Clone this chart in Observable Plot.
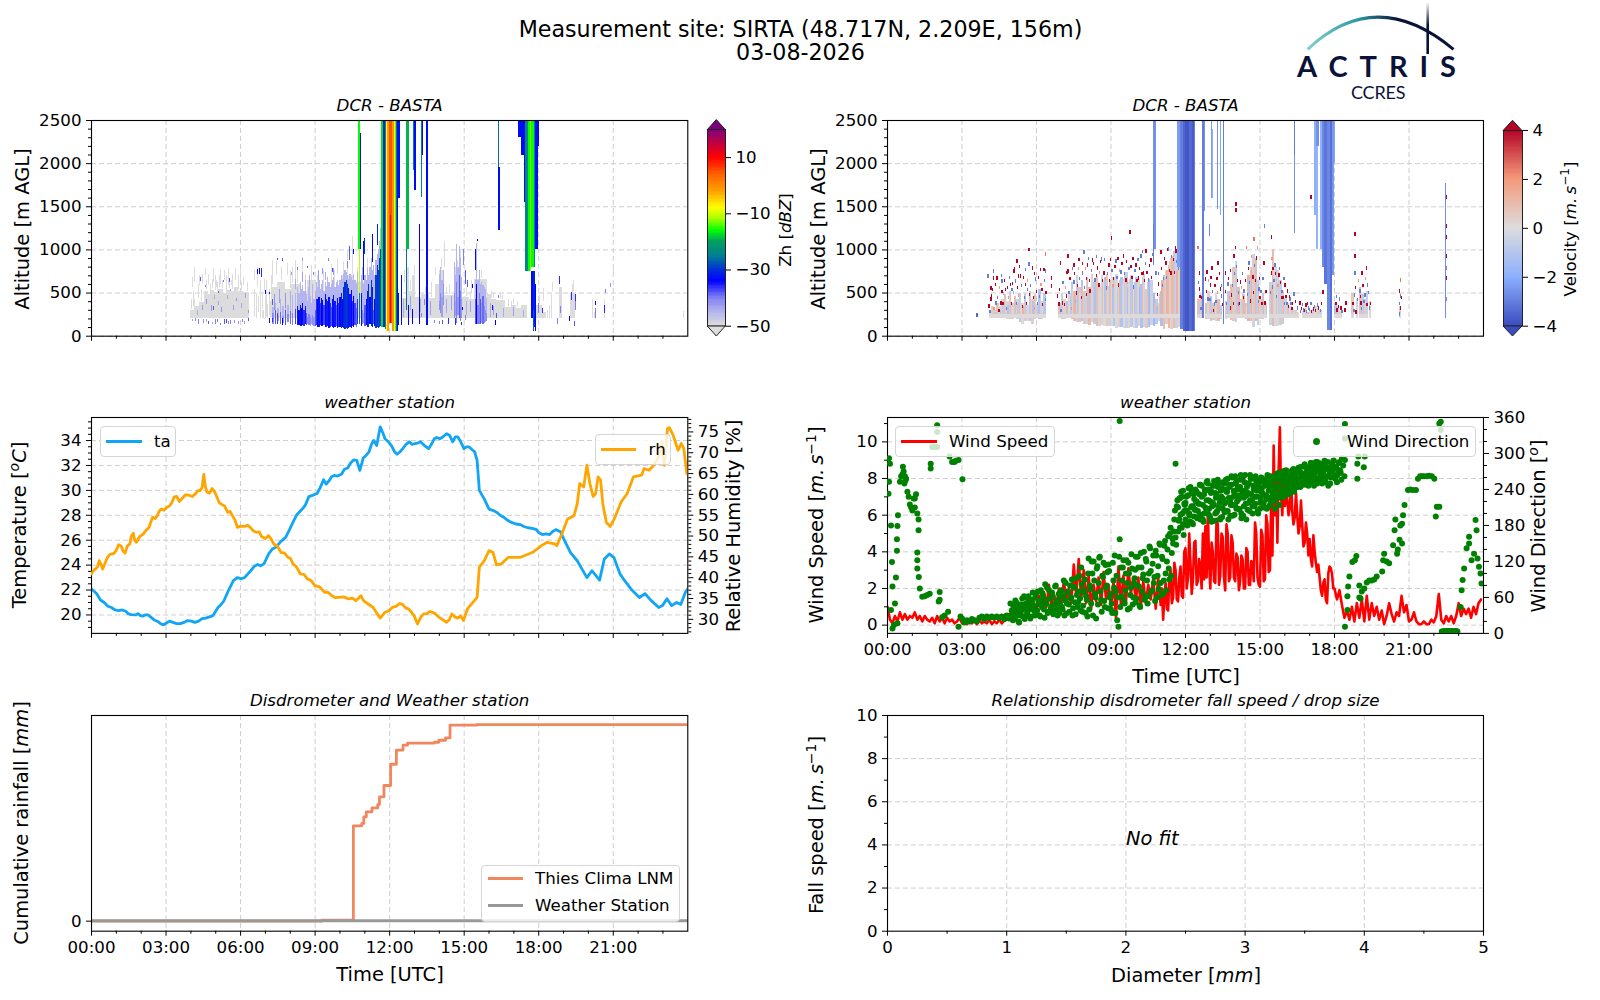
<!DOCTYPE html>
<html><head><meta charset="utf-8">
<script src="https://cdn.jsdelivr.net/npm/d3@7"></script>
<script src="https://cdn.jsdelivr.net/npm/@observablehq/plot@0.6"></script>
<style>
html,body{margin:0;background:#fff}
#fig{position:relative;width:1600px;height:1000px;overflow:hidden;font-family:"DejaVu Sans",sans-serif;color:#000;background:#fff}
#fig svg{position:absolute}
.t{position:absolute;white-space:nowrap;transform:translate(-50%,-50%);line-height:1}
.v{transform:translate(-50%,-50%) rotate(-90deg)}
sup{font-size:.72em;line-height:0}
.leg{position:absolute;background:rgba(255,255,255,.8);border:1px solid #d5d5d5;border-radius:4px;box-sizing:border-box}
.legline{position:absolute;height:3px}
.legdot{position:absolute;width:7px;height:7px;border-radius:50%;background:#008000}
.legt{position:absolute;font-size:16.67px;line-height:1;white-space:nowrap;transform:translateY(-50%)}
</style></head><body><div id="fig"></div>
<script>
// ---------- axis values ----------
const hourTicks=[0,3,6,9,12,15,18,21];
const hourMinor=[1,2,4,5,7,8,10,11,13,14,16,17,19,20,22,23];
const altTicks=[0,500,1000,1500,2000,2500];
const altMinor=[100,200,300,400,600,700,800,900,1100,1200,1300,1400,1600,1700,1800,1900,2100,2200,2300,2400];
const tempTicks=[20,22,24,26,28,30,32,34];
const tempMinor=[19,19.5,20.5,21,21.5,22.5,23,23.5,24.5,25,25.5,26.5,27,27.5,28.5,29,29.5,30.5,31,31.5,32.5,33,33.5,34.5,35,35.5];
const rhTicks=[30,35,40,45,50,55,60,65,70,75];
const rhMinor=[27,28,29,31,32,33,34,36,37,38,39,41,42,43,44,46,47,48,49,51,52,53,54,56,57,58,59,61,62,63,64,66,67,68,69,71,72,73,74,76,77,78];
const speedTicks=[0,2,4,6,8,10];
const speedMinor=[1,3,5,7,9,11];
const dirTicks=[0,60,120,180,240,300,360];
const dirMinor=[20,40,80,100,140,160,200,220,260,280,320,340];
const fallTicks=[0,2,4,6,8,10];
const fallMinor=[1,3,5,7,9];
const diamTicks=[0,1,2,3,4,5];
const diamMinor=[0.5,1.5,2.5,3.5,4.5];
// ---------- colour maps ----------
const zhStops=[-50,-45,-40,-34,-30,-25,-20,-16,-12,-8,-2,4,10,15,20];
const zhColors=["#dcdcdc","#b4b4ee","#8080f5","#0000ff","#0030d8","#008090","#00a060","#00ff00","#a0ff00","#ffff00","#ffa000","#ff6000","#ff0000","#c00040","#800080"];
const velStops=[-4,-2,0,2,4];
const velColors=["#3b4cc0","#8db0fe","#dddcdc","#f49a7b","#b40426"];
// ---------- weather station ----------
const taHours=[0,.21,.51,.8,1.09,1.38,1.58,1.77,1.97,2.16,2.4,2.65,2.9,3.14,3.43,3.72,4.02,4.31,4.6,4.89,5.09,5.32,5.52,5.71,5.87,6.16,6.41,6.69,6.94,7.13,7.43,7.82,8.11,8.36,8.6,8.89,9.08,9.34,9.57,9.77,10.06,10.31,10.55,10.68,10.8,10.94,11.17,11.36,11.48,11.62,11.81,12.07,12.3,12.53,12.79,13.02,13.24,13.57,13.8,14.02,14.29,14.54,14.74,14.99,15.19,15.42,15.52,15.61,15.81,16,16.3,16.59,16.88,17.27,17.56,17.91,18.15,18.44,18.69,18.89,19.03,19.28,19.55,19.71,19.94,20.14,20.45,20.64,20.84,21.03,21.27,21.46,21.75,22.05,22.28,22.53,22.83,22.98,23.16,23.35,23.55,23.72,23.9,24];
const taValues=[22.09,21.7,21,20.6,20.35,20.3,20.03,20,19.95,20,19.8,19.5,19.2,19.5,19.3,19.4,19.5,19.5,19.75,19.95,20.6,21.1,22,22.75,23,23,23.55,24.05,24.1,24.9,25.45,26.25,27.45,28.25,28.8,29.6,29.75,30.85,30.8,31.2,31.3,31.8,32.45,32.4,31.6,32.6,33.1,34,33.6,35.1,34.15,33.6,32.9,33.35,33.9,33.75,33.9,33.35,34.15,34.15,34.55,33.9,34.3,33.35,33.5,33.1,32.4,30,29.3,28.5,28.25,27.85,27.45,27.25,27,26.85,26.45,26.45,26.85,26.65,26,25,24.35,23.8,23,23.55,22.8,24.5,24.9,24.6,23.3,22.75,22,21.4,21.7,21.15,20.6,20.75,21.3,20.75,21,20.85,21.8,22.1];
const taFine=[[.36,21.2],[.66,20.7],[.95,20.4],[1.24,20.4],[1.48,20.1],[1.87,20.1],[2.06,19.9],[2.28,20],[2.52,19.6],[2.78,19.3],[3.02,19.35],[3.28,19.4],[3.58,19.3],[3.87,19.55],[4.16,19.4],[4.45,19.7],[5.2,20.8],[6.04,22.9],[6.55,23.9],[6.8,23.95],[7.28,25.3],[7.62,25.9],[7.96,26.8],[8.25,28],[8.48,28.5],[8.75,29.5],[9.2,30.2],[9.45,30.5],[9.66,31.1],[9.9,31.15],[10.18,31.7],[10.43,32.2],[11.05,32.8],[11.27,33.7],[11.75,34.5],[11.95,33.9],[12.2,33.1],[12.42,33.1],[12.66,33.7],[12.9,33.7],[13.13,33.8],[13.4,33.6],[13.68,33.7],[13.9,34.25],[14.15,34.3],[14.42,34.4],[14.64,34.3],[14.86,33.9],[15.1,33.5],[15.3,33.3],[16.15,28.4],[16.45,28],[16.74,27.6],[17.08,27.3],[17.4,27.1],[17.74,26.95],[18,26.6],[18.3,26.5],[18.56,26.7]];
const rhHours=[0,.16,.31,.45,.64,.84,.99,1.19,1.35,1.54,1.68,1.81,2.07,2.32,2.46,2.65,2.81,3.04,3.24,3.43,3.63,3.92,4.21,4.37,4.52,4.64,4.85,5.05,5.24,5.48,5.67,5.87,6.16,6.39,6.65,6.84,7.13,7.33,7.62,7.91,8.11,8.4,8.69,8.99,9.38,9.67,9.96,10.35,10.64,10.84,11.03,11.33,11.62,11.81,12.11,12.4,12.65,12.88,13.12,13.37,13.63,13.96,14.29,14.5,14.74,14.97,15.13,15.52,15.61,15.81,16,16.16,16.3,16.49,16.78,17.27,17.76,18.11,18.34,18.64,18.73,18.93,19.16,19.42,19.55,19.65,19.81,19.94,20.06,20.19,20.29,20.39,20.49,20.58,20.72,20.88,21.07,21.31,21.56,21.81,22.14,22.24,22.44,22.63,22.83,22.96,23.06,23.18,23.26,23.41,23.61,23.74,23.84,23.96];
const rhValues=[40.9,42.1,44.1,42.1,44.9,45.7,46.5,47.6,45.9,48.1,50.7,48.5,50.4,52.1,54.5,54.9,56.5,56.9,58.1,59.5,58.9,59.8,60.3,60.9,64.8,60.6,61.4,59.3,57.6,55.7,54.9,52.1,52.3,52.1,50.9,49.9,50.1,48.1,46.1,44.9,43.3,40.9,39.7,38.1,36.5,35.7,35.3,34.9,34.5,35.7,34.1,32.9,30.3,31.7,32.9,33.8,32.7,31.7,28.9,31.3,31.9,30.6,29.3,31.3,30.3,29.7,32.5,35.3,42.5,44.1,46.5,46.1,43.1,43.3,44.9,44.9,46.1,47.7,48.5,48.1,47.7,50.5,54.1,54.9,57.7,62.6,61.8,67,62.6,59.5,60.2,64.2,63.4,57.7,53.3,52.3,54.5,58.1,60.2,64.2,64.6,66.2,65.8,67,69,72.6,67,75.8,76,74.2,70.6,72.2,71,65];
const rhFine=[[.08,41.8],[.24,42.6],[.38,43.2],[.54,43.4],[.74,45.6],[.91,45.9],[1.09,47.9],[1.27,46.4],[1.44,47.6],[1.6,49.9],[1.74,49],[1.94,49.9],[2.2,51.4],[2.39,53.4],[2.56,54.2],[2.73,56],[2.92,56.2],[3.14,57.2],[3.33,59.4],[3.53,58.3],[3.78,59.9],[4.06,59.5],[4.28,60.9],[4.45,61.6],[4.58,62],[4.75,60.3],[4.95,60.7],[5.14,58],[5.36,57.2],[5.58,55.9],[5.77,53.9],[6.02,52.4],[6.28,52.6],[6.52,51.2],[6.75,51],[7,49.4],[7.23,49.3],[7.48,47.6],[7.77,45.9],[8.01,44.6],[8.25,42.6],[8.55,40.8],[8.84,39.3],[9.18,37.8],[9.52,36.5],[9.81,35.2],[10.15,35.4],[10.5,35.1],[10.74,35],[10.94,34.6],[11.18,33.5],[11.48,31.5],[11.72,31],[11.96,32],[12.25,33.1],[12.52,33.6],[12.76,32.5],[13,30.7],[13.25,30.5],[13.5,31.4],[13.8,31.5],[14.12,30],[14.4,29.9],[14.62,30.6],[14.86,30.8]];
// wind speed: every 0.1 h until 11 h, every 0.05 h until 18 h, every 0.1 h afterwards
const windHours=[...d3.range(0,11,0.1),...d3.range(11,18,0.05),...d3.range(18,24,0.1)];
const windSpeed=[1,.3,.1,.5,.2,.7,.3,.6,.3,.5,.4,.7,.3,.5,.2,.5,.3,.2,.4,.1,.5,.2,.4,.1,.4,.2,.3,.1,.2,.4,.1,.3,.05,.3,.1,.25,.05,.3,.1,.2,.1,.3,.05,.2,.1,.3,.1,.25,.3,.6,.4,.8,.5,1.2,.6,1,.7,1.4,.8,1.2,.9,1.6,.9,1.8,1,2.2,1.1,1.7,1,2,1.2,2.4,1.4,2,1.2,3.3,1.6,3.6,1.4,3,1.2,2.7,.9,2.2,1.3,2.6,1.1,2.9,1.4,2.2,1,2.4,.4,3.2,1.1,2.7,1.2,3.1,1.7,2.6,1.3,2.6,1,2.4,1.2,2.2,1.4,2.5,.9,2.6,
1.1,2,.3,1.6,2.3,.9,.8,2.6,3,1.2,1.5,3.4,3,1.4,1.3,2.6,3.2,1.6,1.5,4,
4.2,2,2.6,5,3.4,1.7,2.5,4.5,4.6,2.2,2.4,3.6,3.2,2,5,2.5,5.4,2.6,6.3,3.4,
2,4.5,4,2.4,2.3,5.8,5.5,2.2,2.7,5,4.8,2.6,1.9,5.5,5,2.4,2.6,4.9,4.5,2.6,
2.4,3.9,3.7,1.9,2.4,3.8,3.6,2,2,4.2,4,2.2,2.2,3.5,3.3,2.4,5.6,5,2.6,2.2,
2.1,5.2,4.9,2.4,2.5,6,5.5,2.9,3,6.8,3.8,9.8,6,8,4.5,8.4,10.8,7,6,8.5,
6.5,7.8,6.8,6,6.4,8,6.2,5.5,5.9,7.2,6,5,5.4,6.8,5.5,4.3,4.5,5.6,5,3.8,
4.7,3.6,3.2,4.9,4,3.4,2.9,3.3,2.6,1.9,1.6,2.3,2.5,1.4,1.2,2.8,3.2,3.1,2.8,2,
2,1.4,1.9,1.1,.4,.8,.3,1,.2,1.2,.4,1.4,.2,1.6,.3,1.2,.5,1,.3,.8,.05,.5,1.2,.6,.2,.7,.5,1.6,.7,1.1,.2,.3,.7,.2,.05,.05,.2,.05,.05,.3,.15,.5,1.7,.3,.1,.5,.2,.5,.1,.5,1.2,.5,.9,.6,.9,.4,1,.6,1.2,1.4];
const windDir=[[.06,292],[.1,283],[.06,253],[.04,233],[.14,180],[.18,119],[.2,78],[.14,39],[.3,50],[.34,93],[.38,138],[.38,157],[.4,179],[.42,197],[.26,14],[.2,8],[.4,17],[.5,253],[.55,262],[.6,265],[.62,278],[.65,270],[.7,262],[.72,255],[.75,258],[.68,250],[.8,236],[.85,228],[.9,215],[.95,210],[1,205],[1.05,225],[1.1,225],[1.15,232],[1.1,210],[1.2,200],[1.25,190],[1.25,172],[1.2,135],[1.2,122],[1.2,108],[1.26,94],[1.3,75],[1.4,61],[1.6,64],[1.7,66],[1.5,62],[2.1,69],[2.1,56],[2.06,53],[1.74,283],[1.74,275],[1.8,311],[2,311],[1.9,311],[2,336],[2,347],[2.5,295],[2.6,286],[2.86,289],[2.7,286],[2.75,288],[3.02,257],[2.44,36],[2.3,30],[2.2,27],[2.86,11],[2.94,28],
[3,25],[3.1,18],[3.2,22],[3.3,20],[3.4,24],[3.5,22],[3.6,20],[3.7,26],[3.8,28],[3.9,24],[4,28],[4.1,26],[4.2,28],[4.3,26],[4.4,28],[4.5,26],[4.6,28],[4.7,24],[4.8,30],
[4.9,25],[4.95,50],[5,38],[5.05,22],[5.1,45],[5.15,55],[5.2,30],[5.25,40],[5.3,18],[5.35,35],[5.4,48],[5.45,28],[5.5,62],[5.55,40],[5.6,30],[5.65,58],[5.7,45],[5.75,25],[5.8,52],[5.85,68],[5.9,38],[5.95,60],[6,32],[6.05,70],[6.1,48],[6.15,28],[6.2,55],[6.25,65],[6.3,40],[6.35,82],[6.4,50],[6.45,34],[6.5,72],[6.55,58],[6.6,45],[6.65,62],[6.7,38],[6.75,78],[6.8,52],[6.85,30],[6.9,66],[6.95,48],[7,72],[7.05,40],[7.1,88],[7.15,55],[7.2,33],[7.25,68],[7.3,48],[7.35,80],[7.4,60],[7.45,30],[7.5,78],[7.55,52],[7.6,92],[7.65,44],[7.7,70],[7.75,58],[7.8,110],[7.85,36],[7.9,72],[7.95,90],[8,62],[8.05,28],[8.1,125],[8.15,80],[8.2,50],[8.25,100],[8.3,120],[8.35,66],[8.4,25],[8.45,112],[8.5,84],[8.55,128],[8.6,56],[8.65,96],[8.7,118],[8.75,44],[8.8,76],[8.85,102],[8.9,115],[8.95,60],[9,40],[9.05,34],[9.1,88],[9.15,130],[9.2,70],[9.25,22],[9.3,11],[9.35,354],[9.35,157],[9.4,110],[9.45,62],[9.5,122],[9.55,50],[9.6,100],[9.65,84],[9.7,118],[9.75,42],[9.8,76],[9.85,108],[9.9,60],[9.95,92],[10,128],[10,52],[10.05,80],[10.1,110],[10.15,46],[10.2,134],[10.25,70],[10.3,98],[10.35,56],[10.4,124],[10.45,88],[10.5,62],[10.55,145],[10.6,104],[10.65,72],[10.7,130],[10.75,94],[10.8,138],[10.85,60],[10.9,112],[10.95,150],[11,84],[11.05,128],[11.1,66],[11.15,146],[11.2,100],[11.25,120],[11.3,162],[11.35,90],[11.4,176],[11.45,134],[11.5,150],[11.55,190],[11.6,283],[11.6,160],[11.65,212],[11.7,170],[11.75,225],[11.8,198],[11.85,228],[11.9,182],[11.95,216],[12,190],[12.05,205],[12.1,230],[12.15,200],[12.2,186],[12.25,236],[12.3,212],[12.35,195],[12.4,240],[12.45,220],[12.5,204],[12.55,232],[12.6,190],[12.65,246],[12.7,214],[12.75,200],[12.8,238],[12.85,222],[12.9,250],[12.95,208],[13,192],[13.05,236],[13.1,218],[13.15,254],[13.2,200],[13.25,232],[13.3,244],[13.35,210],[13.4,190],[13.45,228],[13.5,252],[13.55,216],[13.6,240],[13.65,204],[13.7,258],[13.75,226],[13.8,196],[13.85,248],[13.9,214],[13.95,236],[14,262],[14.05,208],[14.1,244],[14.15,224],[14.2,256],[14.25,192],[14.3,238],[14.35,212],[14.4,264],[14.45,230],[14.5,206],[14.55,250],[14.6,222],[14.65,258],[14.7,200],[14.75,240],[14.8,216],[14.85,254],[14.9,228],[14.95,246],[15,208],[15.05,236],[15.1,258],[15.15,218],[15.2,246],[15.25,230],[15.3,210],[15.35,252],[15.4,226],[15.45,262],[15.5,238],[15.55,220],[15.6,256],[15.65,242],[15.7,232],[15.75,262],[15.8,246],[15.85,226],[15.9,268],[15.95,240],[16,254],[16.05,232],[16.1,270],[16.15,248],[16.2,262],[16.25,240],[16.3,272],[16.35,252],[16.4,258],[16.45,266],[16.5,244],[16.55,274],[16.6,256],[16.65,278],[16.7,262],[16.75,248],[16.8,282],[16.85,268],[16.9,254],[16.95,276],[17,262],[17.05,284],[17.1,266],[17.15,252],[17.2,280],[17.25,270],[17.3,286],[17.35,258],[17.4,274],[17.45,282],[17.5,250],[17.55,268],[17.6,286],[17.65,262],[17.7,276],[17.75,246],[17.8,270],[17.85,260],[17.9,282],[17.95,288],[18,264],[18.05,278],[18.1,252],[18.15,272],[18.2,286],[18.25,268],[18.3,292],[18.35,280],[18.4,262],[18.42,11],[18.42,349],[18.42,325],[18.42,289],[18.52,39],[18.52,62],[18.55,78],[18.6,95],[18.72,119],[18.82,122],[18.88,129],[19,80],[19.05,58],[18.92,283],[18.92,258],[18.96,295],[19.22,295],[19.18,277],[19,60],[19.1,70],[19.2,75],[19.3,85],[19.4,88],[19.5,88],[19.6,90],[19.7,95],[19.92,103],[19.96,122],[20,133],[20.1,120],[20.2,117],[20.36,147],[20.42,172],[20.45,190],[20.52,133],[20.55,140],[20.62,156],[20.65,180],[20.72,150],[20.72,183],[20.76,197],[20.82,214],[20.96,239],[21.05,240],[21.15,239],[21.28,239],[21.36,258],[21.45,262],[21.52,262],[21.6,262],[21.72,262],[21.8,263],[21.92,262],[22.02,258],[22.12,211],[22.08,195],[22.22,211],[22.28,353],[22.22,350],[22.28,339],[22.32,3],[22.4,4],[22.45,3],[22.5,4],[22.55,3],[22.6,4],[22.65,3],[22.7,4],[22.75,3],[22.8,4],[22.85,3],[22.9,4],[22.95,3],[23.08,44],[23.12,72],[23.16,89],[23.22,108],[23.32,142],[23.42,161],[23.42,150],[23.52,122],[23.62,133],[23.68,189],[23.72,172],[23.76,125],[23.82,111],[23.88,100],[23.92,83]];
// extra direction samples, one every 0.05 h from 5.025 h
const windDirDenseHours=d3.range(5.025,18.3,0.05);
const windDirDense=[32,44,26,52,36,20,48,30,58,42,24,50,34,62,40,28,56,46,30,66,
38,54,30,72,44,60,26,50,76,36,58,42,68,32,48,80,40,56,34,70,
44,62,30,84,50,70,36,58,90,42,76,32,64,52,96,38,82,46,68,34,
56,100,40,74,120,30,88,60,108,48,126,70,36,94,54,114,80,42,104,66,
50,118,76,34,96,60,128,44,88,110,54,72,122,40,100,64,132,48,84,106,
58,128,78,44,110,92,136,62,120,50,100,142,70,116,84,54,130,96,74,148,
64,124,88,154,72,140,108,166,96,158,
170,205,148,222,188,176,236,200,164,214,228,180,242,196,210,184,232,206,220,192,
216,248,198,230,186,240,208,254,222,196,234,212,246,188,226,204,250,218,238,194,
224,202,256,236,190,244,214,260,228,198,250,220,240,206,264,232,196,252,216,244,
234,204,258,222,246,212,262,238,200,252,226,242,216,256,230,208,260,244,220,250,
236,258,224,266,246,214,260,238,270,228,252,242,264,232,256,248,272,236,262,250,
258,272,244,266,252,278,260,248,274,264,254,282,268,246,276,258,270,284,262,252,
268,280,256,274,286,262,250,278,270,288,258,276,264,284,272,256];
const windDirBandHours=d3.range(11.7,17.7,0.05);
const windDirBand=[210,190,226,176,238,204,218,186,230,198,244,212,182,224,206,236,194,216,248,228,
190,232,210,252,200,240,220,186,246,214,234,202,256,226,192,242,208,250,218,236,
204,248,222,262,196,238,214,254,230,208,244,200,258,226,236,190,250,218,264,232,
212,246,228,256,204,240,218,260,234,210,250,224,264,238,214,254,230,244,208,258,
226,268,244,252,234,262,240,272,248,256,236,266,250,274,242,260,254,276,246,268,
264,250,280,258,272,246,268,284,254,276,262,286,250,270,280,258,274,264,288,252];
// ---------- rainfall ----------
const rainHours=[0,9.27,10.54,10.88,10.96,11.06,11.29,11.52,11.59,11.77,12.04,12.27,12.54,12.72,13.8,13.98,14.25,14.43,15.5,24];
const rainThies=[0,.005,.485,.497,.53,.556,.576,.593,.632,.69,.798,.87,.895,.905,.91,.92,.932,.997,1,1];
const stationHours=[0,24];
const stationRain=[0.002,0.002];
// ---------- cloud radar, Zh: rain shafts [start h, end h, base m, top m, dBZ] ----------
const zhShafts=[[10.74,10.82,1000,2500,-16],[10.82,10.87,1000,2350,-33],[10.77,10.82,500,1000,-11],[10.8,10.83,130,500,-25],
[11.68,11.76,100,2500,-17],[11.76,11.82,100,2500,-32],[11.82,11.87,80,2500,-22],[11.87,11.93,60,2500,-8],[11.93,11.99,60,2500,-2],[11.99,12.1,150,2500,5],[12.03,12.07,150,1400,10],[12.1,12.19,50,2500,-1],[12.19,12.24,50,2500,-8],[12.24,12.29,50,2500,-14],[12.29,12.33,60,2500,-26],[12.33,12.37,60,2500,-33],[12.37,12.42,1600,2500,-33],[12.37,12.4,120,500,-33],
[12.68,12.78,1000,2500,-19],[12.68,12.72,300,1000,-26],[12.78,12.81,1800,2500,-33],[12.77,12.8,120,350,-34],[12.96,13.04,1920,2500,-24],[13.0,13.1,1690,2500,-33],[13.3,13.33,1610,2500,-24],[13.33,13.36,2100,2500,-33],[13.5,13.56,120,2500,-33],[13.08,13.1,1600,1900,-33],
[16.39,16.43,1950,2500,-26],[16.4,16.45,1230,1950,-33],
[17.19,17.3,2300,2500,-33],[17.3,17.42,2100,2500,-33],[17.42,17.48,1550,2500,-33],[17.48,17.57,750,2500,-24],[17.57,17.66,750,2500,-16],[17.66,17.72,750,2500,-12],[17.72,17.82,800,2500,-16],[17.82,17.89,800,2500,-25],[17.89,17.98,1000,2500,-33],[17.98,18.02,2200,2500,-33],[17.7,17.78,200,750,-33],[17.78,17.86,100,750,-31],[17.86,17.9,60,600,-34],[17.8,17.83,50,300,-27],[18.3,18.33,2350,2420,-34]];
// Zh: grey low-level echo [start h, end h, top m], base 200 m
const zhGray=[[4,4.15,300],[4.15,4.2,420],[4.2,4.35,340],[4.35,4.55,390],[4.55,4.7,520],[4.7,4.8,480],[4.8,4.95,530],[4.95,5.1,510],[5.1,5.3,540],[5.3,5.45,500],[5.45,5.6,530],[5.6,5.75,520],[5.75,5.9,560],[5.9,6.1,520],[6.1,6.37,510],[6.5,6.54,420],[6.6,6.62,330],[6.75,6.78,500],[6.87,6.95,300],[7,7.03,470],[7.1,7.13,370],[7.2,7.24,400],[7.3,7.5,560],[7.5,7.8,620],[7.8,8.05,540],[8.05,8.4,600],[8.4,8.7,520],[8.7,9.05,640],[9.05,9.6,500],[9.6,10.1,560],[10.1,10.6,700],[10.6,11.1,620],[11.1,11.65,700],[12.53,12.7,440],[12.7,12.78,800],[12.78,12.9,520],[12.9,13.05,700],[13.05,13.3,450],[13.3,13.6,480],[13.6,13.85,440],[13.85,14,600],[14,14.2,760],[14.2,14.6,470],[14.6,14.95,640],[14.95,15.2,450],[15.2,15.4,420],[15.4,15.95,660],[15.95,16.1,480],[16.1,16.3,430],[16.3,16.68,410],[16.68,16.9,330],[16.9,17.1,360],[17.1,17.3,320],[17.3,17.55,350],[17.9,18.15,360],[18.15,18.3,280],[18.42,18.46,360],[18.5,18.55,480],[18.82,18.96,560],[19.29,19.49,500],[20.16,20.2,430],[20.25,20.28,280],[20.66,20.69,420],[22.12,22.14,290],[23.84,23.86,290]];
// Zh: grey wisps above the band [h, base m, top m]
const zhWisps=[[4.05,560,680],[4.15,620,800],[4.35,590,700],[4.53,900,950],[4.6,700,780],[4.72,590,720],[4.9,620,790],[5.02,560,640],[5.2,600,770],[5.35,640,760],[5.5,590,780],[5.62,590,650],[5.8,640,780],[6,650,800],[6.12,590,680],[6.3,560,660],[6.55,640,760],[6.7,560,800],[6.95,520,660],[7.3,600,880],[7.45,700,860],[7.65,650,800],[7.9,700,840],[8.2,640,880],[8.5,700,860],[9.2,700,780],[9.9,720,900],[10.3,720,1000],[10.5,720,1150],[12.6,620,760],[12.9,800,1000],[13.2,500,620],[13.85,700,800],[14.2,800,1100],[14.4,480,600],[14.85,800,1000],[15.3,500,640],[16.2,440,500],[16.55,420,470],[18.2,400,550],[18.55,520,620],[19.42,520,640],[21.0,700,770],[22.12,730,780],[16.9,360,400],[17.25,350,390],
[4.02,310,420],[4.1,340,520],[4.25,350,480],[4.3,440,600],[4.42,400,540],[4.48,610,720],[4.64,540,640],[4.78,500,600],[4.86,550,660],[4.98,530,700],[5.08,520,620],[5.16,560,700],[5.28,550,640],[5.42,520,700],[5.54,550,640],[5.68,540,720],[5.78,570,660],[5.92,540,700],[6.05,530,620],[6.18,520,720],[6.28,520,620],[6.42,260,520],[6.46,210,380],[6.58,230,540],[6.66,200,500],[6.72,280,460],[6.82,210,640],[6.9,310,520],[7.05,220,640],[7.15,240,540],[7.25,220,700],[7.35,570,740],[7.55,630,760],[7.75,630,720],[8,550,760],[8.1,610,800],[8.3,610,760],[8.6,530,720],[8.85,650,820],[9.1,520,700],[9.35,510,760],[9.65,570,830],[9.8,570,760],[10.15,710,860],[10.7,630,800],[10.85,640,860],[11.1,700,900],[12.85,530,640],[13,710,820],[13.45,490,560],[13.7,450,620],[13.95,610,760],[14.08,770,900],[14.3,480,560],[14.65,650,800],[14.75,650,880],[15.1,460,560],[15.25,430,520],[15.5,670,820],[15.7,670,760],[16,490,560],[16.1,440,520],[16.45,420,510],[16.78,340,420],[17,370,440],[17.15,330,400],[17.45,360,420],[18.05,370,470],[18.35,210,300],[18.9,570,640],[19.35,510,600]];
// Zh: blue columns [h, base m, core top m, core dBZ, haze top m]
const zhColumns=[[7.3,130,260,-41,330],[7.4,140,300,-38,380],[7.5,170,240,-43,320],[7.6,130,280,-39,420],[7.7,150,230,-42,340],[7.8,120,300,-38,450],[7.9,160,250,-41,360],[8,130,290,-39,400],[8.1,120,260,-40,470],[8.2,140,310,-37,500],[8.3,120,340,-35,560],[8.35,120,300,-33,500],[8.4,110,360,-32,620],[8.45,110,320,-34,540],[8.5,120,380,-33,590],[8.55,110,300,-36,520],[8.6,130,340,-35,640],[8.65,120,260,-38,480],[8.7,130,220,-41,400],[8.75,120,250,-40,560],[8.8,110,230,-42,460],[8.85,130,200,-43,380],[8.9,120,240,-41,600],[8.95,110,220,-42,420],[9,110,300,-38,520],[9.05,120,430,-36,620],[9.1,100,420,-33,560],[9.15,100,450,-32,650],[9.2,120,380,-36,540],[9.25,110,440,-34,600],[9.3,110,410,-33,640],[9.35,120,350,-37,520],[9.4,100,480,-33,620],[9.45,100,420,-31,580],[9.5,110,400,-35,680],[9.55,90,450,-33,620],[9.6,100,380,-36,560],[9.65,110,330,-38,600],[9.7,100,420,-33,640],[9.75,90,470,-32,680],[9.8,100,400,-35,560],[9.85,110,350,-38,620],[9.9,90,440,-33,650],[9.95,100,380,-36,590],[10,100,450,-33,640],[10.05,90,500,-31,700],[10.1,100,420,-34,660],[10.15,90,560,-31,720],[10.2,80,620,-30,760],[10.25,90,640,-29,740],[10.3,80,600,-30,700],[10.35,90,550,-32,660],[10.4,100,480,-35,720],[10.45,90,530,-33,680],[10.5,110,400,-36,640],[10.55,100,460,-34,720],[10.6,120,380,-37,650],[10.65,100,320,-39,600],[10.7,130,420,-36,740],[10.85,110,500,-32,700],[10.9,130,300,-40,800],[10.95,150,260,-42,600],[11,110,350,-38,700],[11.05,120,420,-33,640],[11.1,100,520,-31,780],[11.15,100,600,-30,700],[11.2,130,450,-33,800],[11.25,110,640,-30,900],[11.3,100,560,-31,760],[11.35,130,300,-38,820],[11.4,110,420,-34,700],[11.45,90,700,-29,880],[11.5,100,820,-30,950],[11.55,90,760,-29,1000],[11.6,100,900,-30,1100],[11.65,110,1000,-28,1250],
[14,300,400,-42,720],[14.05,260,500,-41,800],[14.1,220,450,-43,640],[14.15,350,600,-42,760],[14.6,200,500,-41,850],[14.65,230,400,-43,700],[14.7,150,620,-40,1060],[14.75,240,450,-42,800],[14.8,200,700,-38,1040],[14.85,170,520,-40,900],[14.9,200,420,-42,680],[15.45,140,420,-38,640],[15.5,130,600,-34,1080],[15.55,130,360,-40,640],[15.6,130,500,-40,760],[15.65,140,420,-38,600],[15.7,150,380,-42,620],[15.75,130,460,-39,590],[15.8,150,340,-41,560],[15.85,160,300,-42,540],[15.9,170,260,-41,440]];
// Zh: blue specks and thin streaks [h, base m, top m, dBZ]
const zhSpecks=[[4.82,290,350,-42],[4.9,300,340,-38],[4.2,170,200,-42],[4.3,130,190,-40],[4.5,150,190,-42],[4.7,130,170,-38],[4.85,130,160,-43],[5,140,190,-40],[5.2,125,150,-40],[5.35,130,190,-38],[5.45,150,190,-37],[5.6,130,180,-40],[5.75,150,180,-42],[5.6,520,540,-43],[5.3,620,640,-40],[5.56,620,670,-38],[5.1,490,520,-38],[4.6,560,590,-40],[4.4,630,680,-38],[6.7,720,770,-34],[6.78,720,780,-34],[6.85,680,780,-36],[7,480,530,-33],[7.17,480,510,-35],[7.3,350,420,-38],[7.15,150,200,-33],[7.5,880,900,-38],[7.7,860,900,-38],[7.3,160,200,-36],[7.5,140,260,-37],[7.7,120,200,-34],[8.05,700,740,-43],[8.3,760,800,-40],[8.5,870,900,-42],[8.7,780,810,-38],[8.95,700,740,-40],[9.3,720,780,-42],[9.55,860,900,-40],[9.7,740,780,-38],[10.3,780,860,-40],[10.4,880,1040,-38],[10.55,950,1010,-33],[10.95,640,1100,-33],[11.0,950,1130,-30],[11.3,850,1180,-33],[11.5,1050,1300,-31],[12.47,120,700,-33],[12.93,130,310,-34],[13.2,140,1300,-34],[13.3,220,260,-40],[13.4,350,420,-40],[13.82,150,180,-40],[14.02,130,170,-40],[14.12,140,180,-38],[14.38,140,200,-36],[14.55,820,1170,-38],[14.66,120,200,-36],[14.98,820,1000,-40],[15.05,180,240,-40],[14.95,300,330,-34],[14.9,120,160,-36],[15.15,570,640,-38],[15.05,600,760,-38],[15.45,760,1000,-33],[15.35,550,600,-34],[16.3,200,260,-38],[16.15,300,360,-35],[16.25,120,180,-34],[15.55,1100,1120,-34],[16.4,440,470,-40],[18,260,380,-40],[18.14,260,320,-36],[18.75,140,200,-40],[18.85,600,690,-36],[18.87,260,340,-40],[19.25,170,230,-34],[19.3,410,510,-36],[19.45,110,170,-38],[19.5,300,400,-40],[19.47,400,480,-36],[20.28,200,320,-40],[20.3,350,400,-34],[20.65,260,350,-36],[20.67,500,540,-40],[20.9,560,610,-42],
[4.25,240,300,-44],[4.45,300,360,-43],[4.62,370,420,-42],[4.95,430,470,-44],[5.12,350,400,-43],[5.25,270,330,-42],[5.48,420,470,-44],[5.7,300,350,-43],[5.85,400,440,-42],[6.02,320,380,-44],[6.2,440,490,-43],[6.32,260,300,-42],[6.3,170,200,-38],[6.08,160,195,-40],[5.9,135,175,-42],[4.08,170,195,-43],[4.62,155,190,-44],[5.08,160,190,-40],[5.52,130,175,-41],[6.15,130,165,-42],[7.35,300,480,-42],[7.55,380,540,-43],[7.82,320,500,-42],[8,400,520,-44],[8.22,540,660,-44],[8.48,620,740,-43],[8.78,560,700,-44],[9.12,650,760,-43],[9.42,640,740,-44],[9.75,700,780,-43],[12.55,220,420,-44],[12.85,300,460,-43],[13.25,280,430,-44],[13.65,240,400,-43],[14.3,260,420,-44],[14.5,300,460,-43],[15.1,240,400,-44],[15.25,280,400,-43],[16.05,220,380,-44],[16.2,240,340,-43],[16.6,220,320,-44],[17,230,330,-43],[17.4,220,300,-44]];
// ---------- cloud radar, velocity: shafts [start h, end h, base m, top m, m/s] ----------
const velShafts=[[10.7,10.84,1000,2500,-2.6],[10.7,10.74,820,1300,-3],[11.68,11.8,800,2500,-2.4],[11.8,11.9,80,2500,-3],[11.9,12.0,50,2500,-3.5],[12,12.18,50,2500,-3.8],[12.18,12.28,50,2500,-3.4],[12.28,12.38,60,2500,-3.7],[12.38,12.42,60,2500,-3],[12.68,12.78,200,2500,-3],[12.78,12.82,1450,2500,-2.6],[13.04,13.08,1600,2500,-2.4],[13.08,13.12,1600,2400,-2],[13.3,13.34,1470,2500,-2.6],[13.4,13.44,1400,2500,-2.2],[13.52,13.58,130,2500,-3],[12.97,13,1150,1300,-2.8],
[16.4,16.43,1190,2500,-2.6],[16.38,16.41,2100,2500,-3],[17.18,17.28,1400,2500,-2],[17.28,17.34,1000,2200,-1.8],[17.28,17.38,2200,2500,-2.6],[17.44,17.5,1000,2500,-2],[17.5,17.6,800,2500,-2.8],[17.6,17.7,600,2500,-3.2],[17.7,17.82,70,2500,-2.8],[17.82,17.9,70,2500,-3.3],[17.9,18,700,2500,-2.5],[18,18.06,2000,2500,-2.2],[22.47,22.5,200,1770,-2.7]];
// velocity: low-level column [h, base m, top m, m/s], width 0.1 h
const velColumns=[[4.1,200,280,.1],[4.2,200,340,.5],[4.3,200,300,-.4],[4.4,200,380,.8],[4.5,200,340,.3],[4.6,200,420,-.5],[4.7,200,480,.9],[4.8,190,400,.2],[4.9,190,520,-.6],[5,190,380,.5],[5.1,200,460,.9],[5.2,190,420,-.4],[5.3,160,500,-.8],[5.4,130,380,.1],[5.5,170,500,.6],[5.6,170,360,-.3],[5.7,170,520,-.9],[5.8,140,420,.4],[5.9,190,480,.8],[6,200,360,-.5],[6.1,190,540,-1.1],[6.2,190,400,.3],[6.3,200,500,-.9],[6.9,200,380,.9],[7,190,500,-.6],[7.1,190,420,.3],[7.2,200,400,-1],[7.3,200,500,.2],[7.4,190,620,-.8],[7.5,170,520,1],[7.6,160,700,-.4],[7.7,160,560,.8],[7.8,170,640,-1],[7.9,130,520,.6],[8,130,680,-.5],[8.1,120,560,1.1],[8.2,160,720,.3],[8.3,130,620,-.8],[8.4,110,680,.9],[8.5,110,560,.4],[8.6,120,700,-.3],[8.7,110,640,.1],[8.8,110,720,.7],[8.9,110,580,-.5],[9,110,680,.2],[9.1,110,640,-1],[9.2,90,720,-.2],[9.3,100,560,.5],[9.4,100,680,-1.1],[9.5,90,660,.1],[9.6,90,740,-.6],[9.7,90,620,.3],[9.8,100,700,-.9],[9.9,90,580,.1],[10,90,680,-.8],[10.1,110,660,.3],[10.2,90,600,-1.2],[10.3,100,720,-.3],[10.4,90,540,.6],[10.5,100,660,-1.3],[10.6,120,640,-.5],[10.7,110,500,-1.5],[10.8,140,420,-.8],[10.9,170,380,.4],[11,110,520,-1.2],[11.1,80,700,.9],[11.2,130,760,.5],[11.3,90,820,1.1],[11.4,80,900,.4],[11.5,90,980,.9],[11.6,90,1000,-.5],[11.7,100,800,.4],
[12.5,200,420,.8],[12.6,210,480,-.6],[12.8,190,380,.9],[12.9,190,520,.3],[13,170,460,-.8],[13.1,180,380,.7],[13.2,170,500,-.2],[13.3,170,420,1],[13.4,190,360,-.7],[13.6,190,400,.4],[13.7,200,520,-1],[13.8,180,600,.8],[13.9,170,800,.6],[14,160,860,-.5],[14.1,200,560,.9],[14.2,200,420,-.3],[14.3,210,480,.8],[14.4,190,380,-.8],[14.5,170,700,1.2],[14.6,170,800,.7],[14.7,100,950,-.4],[14.8,170,900,1.1],[14.9,120,640,-.6],[15,190,420,.6],[15.1,190,500,-.8],[15.2,210,380,.3],[15.4,120,620,-.5],[15.5,110,1000,1],[15.6,110,800,-.2],[15.7,110,760,.2],[15.8,120,640,-.6],[15.9,130,520,.7],[16,200,440,-.4],[16.1,200,380,.8],[16.2,210,340,.2],[16.3,210,310,-.5],[16.4,200,300,.6],[16.5,210,270,.1],[16.7,210,290,-.3],[16.8,210,320,.3],[16.9,210,280,-.8],[17,210,300,.2],[17.1,210,310,-.6],[17.2,210,340,.1],[17.3,210,320,.4],[17.4,200,300,-.4],[18.02,200,380,-1],[18.12,200,340,.7],[18.22,200,290,.3],[18.7,200,500,.6],[18.88,200,430,-.3],[19,200,560,.9],[19.1,200,480,-.8],[19.2,200,420,.5],[19.28,200,520,-.6],[19.4,200,400,.3],[20.6,200,340,.6]];
// velocity: narrower columns between those, one every 0.1 h from 4.15 h (top 0 = no echo)
const velFineHours=d3.range(4.15,16.5,0.1);
const velFineTop=[260,310,280,360,300,340,420,360,480,330,400,380,450,340,470,320,500,400,430,340,480,370,450,
0,0,0,0,0,
340,450,380,360,460,540,480,620,500,580,480,640,520,660,560,640,520,600,680,540,640,600,680,540,640,600,700,560,660,540,620,620,560,680,500,620,600,460,380,340,480,640,700,760,860,920,960,760,
0,0,0,0,0,0,0,0,
380,440,0,340,480,420,340,460,380,320,0,360,480,560,740,800,520,380,440,340,660,760,880,840,600,380,460,340,0,560,920,760,700,600,480,400,340,300,280,0];
const velFineV=[-.3,.7,-1,.2,1,-.7,.4,-1.2,.9,.2,-.9,.8,-.3,1.2,-1,.3,.7,-1.1,.5,1,-.6,.2,-1.1,
0,0,0,0,0,
-1,.7,-.3,1.1,-.9,.3,1.2,-1.1,.2,.9,-.6,1.1,-.9,.4,-1.2,.8,-.2,1,-1,.3,.9,-1.2,.5,-.8,1.1,-.4,.7,-1.3,.2,1,-1,.5,-1.4,.9,-.5,.8,-1.5,.3,1,-1.2,.8,1.3,-.6,1.2,.5,1.1,-.8,1.2,
0,0,0,0,0,0,0,0,
-.9,1.1,0,-.7,.8,-1,1.1,-.5,.9,-1,0,1,-.8,1.1,.5,-.9,1,-.6,1.1,.2,-1,1.3,.6,-.8,1,-.5,1.1,-1,0,1.2,.5,-.9,.8,-.7,1,.3,-.8,.9,-.2,0];
// velocity: saturated specks [h, altitude m, m/s]
const velSpecks=[[3.6,220,-3.5],[4.04,670,-3],[4.25,726,-3],[4.25,650,4],[4.39,650,4],[4.15,532,4],[4.22,513,4],[4.15,398,4],[4.08,320,4],[4.35,360,-3],[4.6,610,-3],[4.6,490,4],[4.57,360,4],[4.75,513,4],[4.95,571,4],[5,513,-3],[5.09,726,4],[5.2,842,4],[5.26,668,4],[5.15,610,-3],[5.35,668,4],[5.55,571,4],[5.55,745,-3],[5.69,804,-3],[5.69,977,4],[5.62,513,-3],[5.82,764,4],[5.95,630,-3],[6.15,745,4],[6.29,745,4],[6.22,513,4],[6.36,920,2.5],[6.36,726,-3],[6.36,397,-3],[6.6,650,4],[6.6,552,4],[6.83,436,4],[6.9,340,4],[6.96,820,4],[7.03,360,4],[7.2,436,4],[7.26,900,4],[7.26,726,4],[7.5,800,4],[7.5,600,-3],[7.6,470,4],[7.7,860,4],[7.85,700,-3],[7.9,950,-3],[8,640,4],[8.05,800,4],[8.15,500,4],[8.25,850,4],[8.35,620,-3],[8.45,760,4],[8.5,560,4],[8.6,870,-3],[8.7,700,4],[8.8,530,-3],[8.9,800,4],[9,1110,4],[9.1,640,4],[9.2,840,-3],[9.3,560,4],[9.4,720,-3],[9.5,900,4],[9.6,620,4],[9.75,1180,4],[9.8,780,4],[9.9,540,-3],[10,800,4],[10.1,650,4],[10.2,900,-3],[10.3,700,4],[10.4,960,4],[10.5,620,-3],[10.6,850,4],[10.7,1180,4],[10.8,700,-3],[10.9,580,4],[11,950,4],[11.1,640,-3],[11.2,820,4],[11.3,980,-3],[11.4,700,4],[11.5,860,4],[11.6,960,4],[11.7,760,-3],
[12.5,1000,2.5],[12.55,700,4],[12.55,520,4],[12.65,420,4],[12.8,630,4],[12.85,720,4],[12.9,400,-3],[13,570,4],[13.05,760,4],[13.15,340,-3],[13.25,640,4],[13.3,820,4],[13.4,520,4],[13.45,440,-3],[13.6,700,4],[13.7,580,-3],[13.8,300,4],[13.85,450,4],[13.95,900,4],[14,1000,4],[14.02,1500,4],[14.02,1430,4],[14.05,780,-3],[14.12,340,-3],[14.2,600,4],[14.35,500,-3],[14.45,1000,2.5],[14.55,820,-3],[14.6,380,4],[14.7,660,4],[14.75,1100,2.5],[14.85,880,4],[14.95,520,-3],[15,420,4],[15.15,820,4],[15.2,360,4],[15.45,1120,4],[15.45,700,4],[15.5,540,-3],[15.6,800,-3],[15.75,680,4],[15.85,420,4],[15.95,640,-3],[16,560,4],[16.1,500,4],[16.2,400,-3],[16.3,350,4],[16.35,460,-3],[16.5,300,-3],[16.6,360,4],[16.75,280,-3],[16.85,330,4],[16.95,300,-3],[17.05,350,-3],[17.15,290,4],[17.3,330,-3],[17.35,300,4],[17.52,480,4],[18.05,350,4],[18.1,280,4],[18.2,400,-3],[18.25,300,4],[18.42,280,4],[18.45,360,4],[18.8,450,-3],[18.82,1160,4],[18.82,900,4],[18.82,700,-3],[18.85,250,4],[19.02,500,-3],[19.05,360,4],[19.1,700,4],[19.22,450,-3],[19.28,760,4],[19.32,560,-3],[19.4,300,-3],[20.6,500,4],[20.64,440,-3],[20.65,620,2.5],[20.65,300,4],[20.6,230,-3],[22.48,1580,4],[22.48,1250,4],[22.48,1120,4],[22.48,900,4],[22.48,760,2.5],[22.48,650,4],[22.48,400,2.5],[15.18,1250,-3],[17.05,1580,4],[17.2,2130,4]];
// velocity: more specks of the noisy layer [h, altitude m, m/s]
const velNoise=[[4.12,260,-3],[4.18,450,4],[4.28,300,2],[4.33,580,4],[4.42,430,-3],[4.48,280,4],[4.52,540,2],[4.58,680,-3],[4.65,350,4],[4.68,470,-2],[4.72,620,4],[4.78,300,-3],[4.84,540,4],[4.88,430,2],[4.92,660,-3],[4.98,360,4],[5.04,590,4],[5.07,480,-2],[5.12,760,4],[5.18,360,-3],[5.22,540,4],[5.28,450,2],[5.32,780,4],[5.38,560,-3],[5.42,320,4],[5.46,660,4],[5.5,420,-3],[5.58,350,4],[5.64,620,2],[5.72,460,4],[5.76,560,-3],[5.86,420,4],[5.9,700,4],[5.92,300,-2],[6,500,4],[6.04,360,-3],[6.08,660,4],[6.12,440,-3],[6.18,580,2],[6.25,340,4],[6.32,620,-3],[6.38,480,4],
[6.92,520,4],[6.98,280,-3],[7.06,600,-3],[7.12,340,4],[7.16,540,2],[7.22,720,4],[7.3,480,-3],[7.34,640,4],[7.4,300,2],[7.44,760,-3],[7.54,700,4],[7.58,380,-2],[7.64,560,4],[7.68,760,2],[7.74,640,-3],[7.8,420,4],[7.84,820,4],[7.92,540,-3],[7.98,760,2],[8.02,460,4],[8.1,880,-3],[8.14,620,4],[8.2,740,-3],[8.3,820,4],[8.4,680,4],[8.42,900,-3],[8.52,720,2],[8.56,840,4],[8.64,620,4],[8.72,860,-3],[8.76,640,2],[8.84,700,-3],[8.92,620,4],[8.96,860,4],[9.04,740,-3],[9.08,560,2],[9.16,780,4],[9.24,660,-3],[9.28,880,4],[9.34,740,2],[9.44,820,4],[9.54,700,-3],[9.62,840,4],[9.66,600,2],[9.72,760,-3],[9.84,660,4],[9.88,880,4],[9.96,740,-3],[10.04,620,4],[10.08,860,-3],[10.14,760,4],[10.24,700,4],[10.26,960,-3],[10.34,620,4],[10.38,820,-3],[10.44,720,4],[10.54,800,4],[10.62,660,4],[10.66,920,-3],[10.88,460,4],[10.92,700,-3],[11.04,760,4],[11.08,560,-3],[11.14,880,4],[11.22,660,-3],[11.26,980,4],[11.34,740,4],[11.44,900,-3],[11.54,720,4],[11.58,1000,4],[11.64,840,-3],
[12.52,600,-3],[12.58,440,4],[12.62,300,-3],[12.84,500,4],[12.92,620,2],[12.98,400,-3],[13.02,660,4],[13.08,500,-3],[13.12,280,4],[13.18,560,4],[13.22,380,-3],[13.28,480,2],[13.36,700,4],[13.44,560,-3],[13.48,340,4],[13.62,500,4],[13.66,360,-3],[13.72,640,4],[13.76,420,2],[13.82,740,4],[13.88,560,-3],[13.92,360,4],[13.98,700,-3],[14.08,620,4],[14.14,480,-3],[14.18,360,4],[14.24,540,2],[14.28,700,-3],[14.32,420,4],[14.42,620,4],[14.48,460,-3],[14.52,760,4],[14.58,600,-3],[14.64,900,2],[14.72,480,4],[14.78,800,-3],[14.82,620,4],[14.88,1000,2],[14.92,380,-3],[14.98,640,4],[15.04,500,-3],[15.08,360,4],[15.12,640,-3],[15.24,500,4],[15.42,480,-3],[15.48,880,2],[15.52,760,4],[15.56,620,-3],[15.62,700,4],[15.66,440,-3],[15.72,560,2],[15.78,760,-3],[15.82,600,4],[15.88,500,-3],[15.92,420,4],[15.98,360,-3],[16.04,440,4],[16.08,360,-3],[16.14,320,4],[16.18,440,4],[16.24,360,-3],[16.28,300,4],[16.42,380,4],[16.62,260,-3],[16.68,300,4],[16.72,340,-3],[16.8,280,4],[16.88,260,-3],[16.92,360,4],[17.0,290,-3],[17.08,260,4],[17.18,320,-3],[17.24,270,4],[17.42,280,-3],[17.48,360,4],
[18.08,440,-3],[18.16,320,4],[18.3,260,-3],[18.74,360,4],[18.78,280,-3],[18.84,540,4],[18.92,400,-3],[18.96,620,2],[19.04,440,4],[19.08,300,-3],[19.14,560,4],[19.18,380,-3],[19.25,640,2],[19.3,340,4],[19.36,480,-3],[19.46,360,4],[20.62,360,-3],[20.68,420,4]];

// ---------- helpers ----------
const fig=document.getElementById("fig");
const font='"DejaVu Sans",sans-serif';
const TICK=16.67, LABEL=19.44;
const hhmm=h=>String(h).padStart(2,"0")+":00";
const minus=d=>String(d).replace("-","\u2212");
const BG={background:"transparent",fontFamily:font,color:"#000",overflow:"visible"};

function place(plot,left,top){plot.style.left=left+"px";plot.style.top=top+"px";fig.appendChild(plot);return plot;}
function panel(f,{x,y,color,marks}){
  const pad={l:88,r:58,t:30,b:32};
  const W=f.x2-f.x1+pad.l+pad.r,H=f.y2-f.y1+pad.t+pad.b;
  return place(Plot.plot({width:W,height:H,marginLeft:pad.l,marginRight:pad.r,marginTop:pad.t,marginBottom:pad.b,
    x:{domain:x,axis:null},y:{domain:y,axis:null},color,style:BG,marks}),f.x1-pad.l,f.y1-pad.t);
}
const gridX=t=>Plot.gridX(t,{stroke:"#cfcfcf",strokeOpacity:1,strokeWidth:1,strokeDasharray:"5,3"});
const gridY=t=>Plot.gridY(t,{stroke:"#cfcfcf",strokeOpacity:1,strokeWidth:1,strokeDasharray:"5,3"});
const axXm=t=>Plot.axisX({ticks:t,tickSize:3,text:null,label:null,anchor:"bottom"});
const axXbare=t=>Plot.axisX({ticks:t,tickSize:5,text:null,label:null,anchor:"bottom"});
const axXt=(t,fmt)=>Plot.axisX({ticks:t,tickSize:5,tickPadding:5,fontSize:TICK,tickFormat:fmt,label:null,anchor:"bottom"});
const axY=(t,anchor="left")=>Plot.axisY({ticks:t,tickSize:5,tickPadding:5,fontSize:TICK,tickFormat:d=>String(d),label:null,anchor});
const axYm=(t,anchor="left")=>Plot.axisY({ticks:t,tickSize:3,text:null,label:null,anchor});
const frame=()=>Plot.frame({stroke:"#000",strokeWidth:1.1});
const title=s=>Plot.text([s],{text:d=>d,frameAnchor:"top",dy:-14.5,lineAnchor:"middle",fontSize:TICK,fontStyle:"italic",fill:"#000"});
function label(html,x,y,size=LABEL,vertical=true){
  const d=document.createElement("div");d.className="t"+(vertical?" v":"");d.innerHTML=html;
  d.style.cssText+=`left:${x}px;top:${y}px;font-size:${size}px`;fig.appendChild(d);
}
function legend(x,y,w,h,items){
  const b=document.createElement("div");b.className="leg";b.style.cssText=`left:${x}px;top:${y}px;width:${w}px;height:${h}px`;
  for(const it of items){
    if(it.dot){const s=document.createElement("div");s.className="legdot";s.style.cssText=`left:${it.sx-x-4.5}px;top:${it.cy-y-4.5}px`;b.appendChild(s);}
    else{const s=document.createElement("div");s.className="legline";s.style.cssText=`left:${it.sx-x-1}px;top:${it.cy-y-2.5}px;width:${it.sw}px;background:${it.color}`;b.appendChild(s);}
    const t=document.createElement("div");t.className="legt";t.textContent=it.text;t.style.cssText=`left:${it.tx-x-1}px;top:${it.cy-y-1}px`;b.appendChild(t);
  }
  fig.appendChild(b);
}
const rowsTo=(xs,ys)=>xs.map((x,i)=>({x,y:ys[i]}));
const withFine=(xs,ys,fine)=>d3.sort([...rowsTo(xs,ys),...fine.map(([x,y])=>({x,y}))],d=>d.x);
const FL=[90.7,687],FR=[887,1483];
const R1=[120.3,336],R2=[417.3,633.2],R3=[715.3,931];
const frm=(c,r)=>({x1:c[0],x2:c[1],y1:r[0],y2:r[1]});
const strip=(rows,w,opts)=>Plot.rect(rows,{x1:d=>d[0],x2:d=>d[0]+w,shapeRendering:"crispEdges",...opts});

// ---------- top row: radar ----------
const zhColor={type:"linear",domain:zhStops,range:zhColors,clamp:true};
const velColor={type:"linear",domain:velStops,range:velColors,clamp:true};
panel(frm(FL,R1),{x:[0,24],y:[0,2500],color:zhColor,marks:[
  gridX(hourTicks),gridY(altTicks),
  Plot.rect(zhGray,{x1:d=>d[0],x2:d=>d[1],y1:()=>200,y2:d=>d[2],fill:()=>-50,shapeRendering:"crispEdges"}),
  strip(zhWisps,.035,{y1:d=>d[1],y2:d=>d[2],fill:()=>-50}),
  strip(zhColumns,.05,{y1:d=>d[2],y2:d=>d[4],fill:()=>-45}),
  strip(zhColumns,.05,{y1:d=>d[1],y2:d=>d[2],fill:d=>d[3]}),
  strip(zhSpecks,.04,{y1:d=>d[1],y2:d=>d[2],fill:d=>d[3]}),
  Plot.rect(zhShafts,{x1:d=>d[0],x2:d=>d[1],y1:d=>d[2],y2:d=>d[3],fill:d=>d[4],shapeRendering:"crispEdges"}),
  axXm(hourMinor),axXbare(hourTicks),
  axY(altTicks),axYm(altMinor),frame(),title("DCR - BASTA")
]});
const velFine=velFineHours.map((h,i)=>[h,velFineTop[i],velFineV[i]]).filter(d=>d[1]>0);
panel(frm(FR,R1),{x:[0,24],y:[0,2500],color:velColor,marks:[
  gridX(hourTicks),gridY(altTicks),
  strip(velColumns,.1,{y1:d=>d[1],y2:d=>d[2],fill:d=>d[3]}),
  strip(velFine,.05,{y1:()=>200,y2:d=>d[1],fill:d=>d[2]}),
  strip(velColumns,.1,{y1:()=>205,y2:d=>Math.min(d[2],250),fill:()=>.05}),
  strip(velSpecks,.06,{y1:d=>d[1],y2:d=>d[1]+45,fill:d=>d[2]}),
  strip(velNoise,.05,{y1:d=>d[1],y2:d=>d[1]+35,fill:d=>d[2]}),
  Plot.rect(velShafts,{x1:d=>d[0],x2:d=>d[1],y1:d=>d[2],y2:d=>d[3],fill:d=>d[4],shapeRendering:"crispEdges"}),
  axXm(hourMinor),axXbare(hourTicks),
  axY(altTicks),axYm(altMinor),frame(),title("DCR - BASTA")
]});
function colorbar(x1,x2,y1,y2,domain,scale,ticks,step){
  const cells=d3.range(domain[0],domain[1],step);
  place(Plot.plot({width:x2-x1+70,height:y2-y1+4,marginLeft:2,marginRight:68,marginTop:2,marginBottom:2,
    x:{domain:[0,1],axis:null},y:{domain,axis:null},color:scale,style:BG,marks:[
      Plot.rect(cells,{x1:()=>0,x2:()=>1,y1:d=>d,y2:d=>d+step,fill:d=>d+step/2,shapeRendering:"crispEdges"}),
      Plot.axisY({ticks,anchor:"right",tickSize:5,tickPadding:5,fontSize:TICK,tickFormat:minus,label:null}),
      Plot.frame({stroke:"#222",strokeWidth:1})
    ]}),x1-2,y1-2);
}
colorbar(707.3,725.3,129.3,326,[-50,20],zhColor,[-50,-30,-10,10],.5);
colorbar(1503,1522,130.3,326,[-4,4],velColor,[-4,-2,0,2,4],.05);
fig.insertAdjacentHTML("beforeend",`<svg width="1600" height="340" style="left:0;top:0;overflow:visible">
<polygon points="707.3,129.6 716.3,119.6 725.3,129.6" fill="#7d0080" stroke="#222"/>
<polygon points="1503,130.6 1512.5,120.3 1522,130.6" fill="#b40426" stroke="#222"/>
<polygon points="707.3,326 716.3,336 725.3,326" fill="#dcdcdc" stroke="#222"/>
<polygon points="1503,326 1512.5,336 1522,326" fill="#3b4cc0" stroke="#222"/>
</svg>`);

// ---------- middle row ----------
panel(frm(FL,R2),{x:[0,24],y:[18.52,35.85],marks:[
  gridX(hourTicks),gridY(tempTicks),
  Plot.line(withFine(taHours,taValues,taFine),{x:"x",y:"y",stroke:"#10a5f5",strokeWidth:2.8,clip:true}),
  axXm(hourMinor),axXbare(hourTicks),
  axY(tempTicks),axYm(tempMinor),frame(),title("weather station")
]});
panel(frm(FL,R2),{x:[0,24],y:[26.63,78.46],marks:[
  Plot.line(withFine(rhHours,rhValues,rhFine),{x:"x",y:"y",stroke:"#ffa500",strokeWidth:2.8,clip:true}),
  axY(rhTicks,"right"),axYm(rhMinor,"right")
]});
panel(frm(FR,R2),{x:[0,24],y:[-0.45,11.33],marks:[
  gridX(hourTicks),gridY(speedTicks),
  Plot.line(rowsTo(windHours,windSpeed),{x:"x",y:"y",stroke:"#ff0000",strokeWidth:2.6,clip:true}),
  axXt(hourTicks,hhmm),axXm(hourMinor),
  axY(speedTicks),axYm(speedMinor),frame(),title("weather station")
]});
const dirDots=[...windDir,...windDirDenseHours.map((h,i)=>[h,windDirDense[i]]),...windDirBandHours.map((h,i)=>[h,windDirBand[i]])];
panel(frm(FR,R2),{x:[0,24],y:[0,360],marks:[
  Plot.dot(dirDots,{x:d=>d[0],y:d=>d[1],r:3,fill:"#008000",clip:true}),
  axY(dirTicks,"right"),axYm(dirMinor,"right")
]});

// ---------- bottom row ----------
panel(frm(FL,R3),{x:[0,24],y:[-0.051,1.046],marks:[
  gridX(hourTicks),
  Plot.line(rowsTo(rainHours,rainThies),{x:"x",y:"y",curve:"step-after",stroke:"#f0875f",strokeWidth:2.8,clip:true}),
  Plot.line(rowsTo(stationHours,stationRain),{x:"x",y:"y",stroke:"#999999",strokeWidth:2.8,clip:true}),
  axXt(hourTicks,hhmm),axXm(hourMinor),
  axY([0]),frame(),title("Disdrometer and Weather station")
]});
panel(frm(FR,R3),{x:[0,5],y:[0,10],marks:[
  gridX(diamTicks.slice(1,-1)),gridY(fallTicks.slice(1,-1)),
  Plot.text(["No fit"],{x:()=>2,y:()=>4,text:d=>d,textAnchor:"start",lineAnchor:"bottom",fontSize:LABEL,fontStyle:"italic",fill:"#000"}),
  axXt(diamTicks,d=>String(d)),axXm(diamMinor),
  axY(fallTicks),axYm(fallMinor),frame(),title("Relationship disdrometer fall speed / drop size")
]});

// ---------- labels ----------
label("Altitude [m AGL]",22.6,229);
label("Altitude [m AGL]",819,229);
label("Zh [<i>dBZ</i>]",786,230,TICK);
label("Velocity [<i>m.&thinsp;s</i><sup>\u22121</sup>]",1571,229,TICK);
label("Temperature [<i><sup>o</sup>C</i>]",19.5,525);
label("Relative Humidity [%]",734,526);
label("Wind Speed [<i>m.&thinsp;s</i><sup>\u22121</sup>]",817,525);
label("Wind Direction [<i><sup>o</sup></i>]",1539,526);
label("Cumulative rainfall [<i>mm</i>]",22,823);
label("Fall speed [<i>m.&thinsp;s</i><sup>\u22121</sup>]",817,825);
label("Time [UTC]",1186,677,LABEL,false);
label("Time [UTC]",390,975,LABEL,false);
label("Diameter [<i>mm</i>]",1186,976,LABEL,false);
label("Measurement site: SIRTA (48.717N, 2.209E, 156m)",800.5,28.7,22.2,false);
label("03-08-2026",800.5,52.3,22.2,false);

// ---------- legends ----------
legend(100.3,426.3,75.7,31,[{sx:105.7,sw:36,cy:441.8,color:"#10a5f5",text:"ta",tx:154}]);
legend(594.8,434.3,76.6,31,[{sx:601,sw:35,cy:449.8,color:"#ffa500",text:"rh",tx:648.6}]);
legend(895.4,426,159.2,31.3,[{sx:901,sw:36,cy:441.8,color:"#ff0000",text:"Wind Speed",tx:949}]);
legend(1293,426,182.5,31.3,[{dot:true,sx:1316,cy:441.8,text:"Wind Direction",tx:1347}]);
legend(481,865.3,198.5,57,[{sx:487.5,sw:35.5,cy:879,color:"#f0875f",text:"Thies Clima LNM",tx:535},{sx:487.5,sw:35.5,cy:905.7,color:"#999999",text:"Weather Station",tx:535}]);

// ---------- logo ----------
fig.insertAdjacentHTML("beforeend",`<svg width="1600" height="110" style="left:0;top:0">
<defs><linearGradient id="arc" x1="0" x2="1" y1="0" y2="0"><stop offset="0" stop-color="#86cfc8"/><stop offset=".35" stop-color="#2c96a4"/><stop offset=".62" stop-color="#0b1238"/><stop offset="1" stop-color="#0b1238"/></linearGradient>
<linearGradient id="mast" x1="0" x2="0" y1="0" y2="1"><stop offset="0" stop-color="#ffffff"/><stop offset=".45" stop-color="#0b1238"/></linearGradient></defs>
<path d="M1307.6,49.3 Q1376,-15 1453.5,49.3" fill="none" stroke="url(#arc)" stroke-width="3"/>
<rect x="1426.4" y="2" width="2.6" height="52" fill="url(#mast)"/>
<text x="1297" y="77.3" textLength="159" lengthAdjust="spacing" font-family="Lato,'Open Sans',sans-serif" font-size="29" font-weight="700" fill="#0b1238">ACTRIS</text>
<text x="1351" y="99" textLength="54.5" lengthAdjust="spacing" font-family="Lato,'Open Sans',sans-serif" font-size="18" fill="#0b1238">CCRES</text>
</svg>`);
</script></body></html>
